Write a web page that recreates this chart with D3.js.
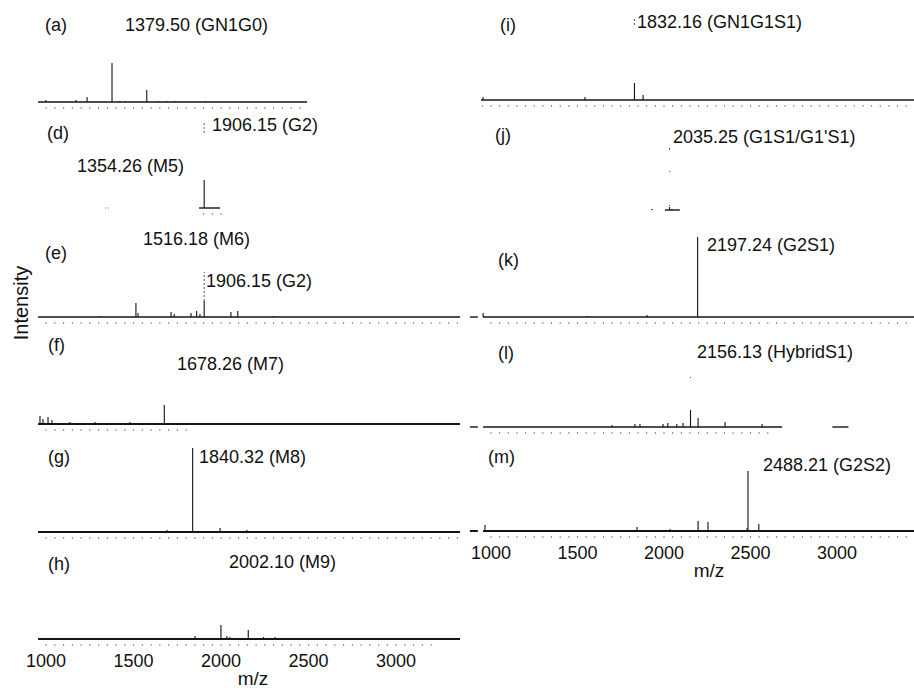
<!DOCTYPE html>
<html>
<head>
<meta charset="utf-8">
<script src="https://cdn.jsdelivr.net/npm/d3@7"></script>
<style>
  body { margin: 0; background: #fff; }
  text { font-family: "Liberation Sans", Arial, sans-serif; fill: #111; }
</style>
</head>
<body>
<svg id="chart" width="914" height="688"></svg>
<script>
// ============================================================================
// DATA: peaks as [m/z, intensity (a.u.)]
// ============================================================================
const peaksA = [[1002, 2], [1174, 2], [1237, 5], [1379.5, 39], [1425, 1], [1454, 1], [1578, 12], [1642, 1], [1694, 1], [1740, 1], [1913, 1]];
const peaksD = [[1906.15, 28]];
const peaksE = [[1311, 1], [1516.18, 14], [1528, 4], [1717, 5], [1735, 3], [1831, 4], [1863, 6], [1882, 3], [1906.15, 16], [2059, 5], [2098, 6], [2300, 1]];
const peaksF = [[968, 8], [985, 5], [1014, 7], [1036, 4], [1139, 2], [1282, 2], [1482, 2], [1678.26, 19], [2000, 1]];
const peaksG = [[1694, 2], [1840.32, 84], [1997, 4], [2150, 2]];
const peaksH = [[1854, 3], [2002.10, 14], [2036, 3], [2053, 2], [2158, 9], [2245, 2], [2311, 2]];
const peaksI = [[957, 3], [1546, 3], [1832.16, 17], [1882, 5]];
const peaksJ = [[1933, 1], [2035.25, 3], [2050, 1]];
const peaksK = [[957, 4], [1558, 1], [1905, 2], [2197.24, 80]];
const peaksL = [[1702, 2], [1835, 3], [1864, 3], [1997, 3], [2025, 4], [2077, 3], [2113, 4], [2156.13, 17], [2200, 9], [2356, 5], [2570, 3]];
const peaksM = [[968, 6], [1847, 4], [2038, 2], [2200, 10], [2257, 9], [2483, 3], [2488.21, 60], [2551, 7]];

// faint (scanned-out) parts of the main peaks: [m/z, from, to]
const ghostD = [[1906.15, 75, 85]];
const ghostE = [[1906.15, 16, 45]];
const ghostI = [[1832.16, 75, 83]];
const ghostJ = [[2035.25, 60, 63], [2035.25, 38, 39], [2035.25, 4, 5]];
const ghostL = [[2156.13, 49, 50]];

const mzTicks = [1000, 1500, 2000, 2500, 3000];
const minorTicks = d3.range(950, 3451, 50);

// ============================================================================
// LAYOUT
// ============================================================================
const svg = d3.select('#chart');

const xLeft = d3.scaleLinear().domain([1000, 3000]).range([45.6, 395.6]);
const xRight = d3.scaleLinear().domain([1000, 3000]).range([490.5, 836.5]);

const panels = [
  { x: xLeft, base: 102, segs: [[957, 2494]], ticks: [957, 2494], peaks: peaksA,
    letter: ['(a)', 45, 31], labels: [['1379.50 (GN1G0)', 125, 31]] },
  { x: xLeft, base: 208, segs: [[1877, 1997]], dots: [[1340, 1370]], ticks: [1880, 2000], peaks: peaksD, ghosts: ghostD,
    letter: ['(d)', 47, 139], labels: [['1906.15 (G2)', 212, 131], ['1354.26 (M5)', 77, 172]] },
  { x: xLeft, base: 317, segs: [[957, 3368]], ticks: [1000, 3368], peaks: peaksE, ghosts: ghostE,
    letter: ['(e)', 45, 259], labels: [['1516.18 (M6)', 143, 245], ['1906.15 (G2)', 206, 287]] },
  { x: xLeft, base: 424, segs: [[957, 3368]], ticks: [957, 1800], peaks: peaksF, thick: true,
    letter: ['(f)', 48, 351], labels: [['1678.26 (M7)', 177, 370]] },
  { x: xLeft, base: 532, segs: [[957, 3368]], ticks: [957, 3368], peaks: peaksG, thick: true,
    letter: ['(g)', 48, 463], labels: [['1840.32 (M8)', 199, 463]] },
  { x: xLeft, base: 639, segs: [[957, 3368]], ticks: [957, 3200], peaks: peaksH, thick: true,
    axisLabels: true, titleX: 253,
    letter: ['(h)', 48, 570], labels: [['2002.10 (M9)', 229, 568]] },

  { x: xRight, base: 100, segs: [[945, 3449]], ticks: [950, 3449], peaks: peaksI, ghosts: ghostI,
    letter: ['(i)', 500, 31], labels: [['1832.16 (GN1G1S1)', 637, 28]] },
  { x: xRight, base: 210, segs: [[2008, 2095]], dots: [[1930, 1936]], ticks: null, peaks: peaksJ, ghosts: ghostJ,
    letter: ['(j)', 495, 141], labels: [["2035.25 (G1S1/G1'S1)", 673, 143]] },
  { x: xRight, base: 317, segs: [[881, 927], [957, 3449]], ticks: [957, 3449], peaks: peaksK,
    letter: ['(k)', 498, 266], labels: [['2197.24 (G2S1)', 707, 251]] },
  { x: xRight, base: 427, segs: [[881, 927], [957, 2686], [2976, 3069]], ticks: [957, 2600], peaks: peaksL, ghosts: ghostL,
    letter: ['(l)', 498, 359], labels: [['2156.13 (HybridS1)', 697, 358]] },
  { x: xRight, base: 531, segs: [[881, 927], [957, 3449]], ticks: [957, 3449], peaks: peaksM, thick: true,
    axisLabels: true, titleX: 709,
    letter: ['(m)', 488, 463], labels: [['2488.21 (G2S2)', 763, 471]] }
];

// ============================================================================
// PANELS
// ============================================================================
panels.forEach(p => {
  const g = svg.append('g');
  const x = p.x;
  const y = d3.scaleLinear().domain([0, 100]).range([p.base, p.base - 100]);

  // minor tick row under the spectrum
  if (p.ticks) {
    const tv = minorTicks.filter(t => t >= p.ticks[0] && t <= p.ticks[1]);
    const ax = g.append('g')
      .attr('transform', `translate(0,${p.base + 5})`)
      .call(d3.axisBottom(x).tickValues(tv).tickSizeInner(2).tickSizeOuter(0).tickFormat(''));
    ax.select('.domain').remove();
    ax.selectAll('line').attr('stroke', '#8a8a8a');
  }

  // baseline
  g.selectAll('line.base')
    .data(p.segs)
    .join('line')
    .attr('class', 'base')
    .attr('x1', d => x(d[0]))
    .attr('x2', d => x(d[1]))
    .attr('y1', y(0))
    .attr('y2', y(0))
    .attr('stroke', '#151515')
    .attr('stroke-width', p.thick ? 2 : 1.4);

  // faint dotted baseline remnants
  if (p.dots) {
    g.selectAll('line.dots')
      .data(p.dots)
      .join('line')
      .attr('class', 'dots')
      .attr('x1', d => x(d[0]))
      .attr('x2', d => x(d[1]))
      .attr('y1', y(0))
      .attr('y2', y(0))
      .attr('stroke', '#666')
      .attr('stroke-width', 1)
      .attr('stroke-dasharray', '1,2');
  }

  // peaks
  g.selectAll('line.peak')
    .data(p.peaks)
    .join('line')
    .attr('class', 'peak')
    .attr('x1', d => x(d[0]))
    .attr('x2', d => x(d[0]))
    .attr('y1', y(0))
    .attr('y2', d => y(d[1]))
    .attr('stroke', '#111')
    .attr('stroke-width', 1.1);

  if (p.ghosts) {
    g.selectAll('line.ghost')
      .data(p.ghosts)
      .join('line')
      .attr('class', 'ghost')
      .attr('x1', d => x(d[0]))
      .attr('x2', d => x(d[0]))
      .attr('y1', d => y(d[1]))
      .attr('y2', d => y(d[2]))
      .attr('stroke', '#555')
      .attr('stroke-width', 1)
      .attr('stroke-dasharray', '2,2');
  }

  // texts
  g.append('text')
    .attr('x', p.letter[1])
    .attr('y', p.letter[2])
    .attr('font-size', 18)
    .text(p.letter[0]);

  g.selectAll('text.lbl')
    .data(p.labels)
    .join('text')
    .attr('class', 'lbl')
    .attr('x', d => d[1])
    .attr('y', d => d[2])
    .attr('font-size', 18)
    .text(d => d[0]);

  // m/z axis labels
  if (p.axisLabels) {
    const ax = g.append('g')
      .attr('transform', `translate(0,${p.base + 5})`)
      .call(d3.axisBottom(x).tickValues(mzTicks).tickSize(0).tickPadding(10).tickFormat(d3.format('d')));
    ax.select('.domain').remove();
    ax.selectAll('text')
      .attr('font-size', 18)
      .attr('font-family', '"Liberation Sans", Arial, sans-serif')
      .attr('fill', '#111');

    g.append('text')
      .attr('x', p.titleX)
      .attr('y', p.base + 46)
      .attr('text-anchor', 'middle')
      .attr('font-size', 19)
      .text('m/z');
  }
});

// Y TITLE
svg.append('text')
  .attr('transform', 'translate(28,303) rotate(-90)')
  .attr('text-anchor', 'middle')
  .attr('font-size', 20)
  .text('Intensity');
</script>
</body>
</html>
